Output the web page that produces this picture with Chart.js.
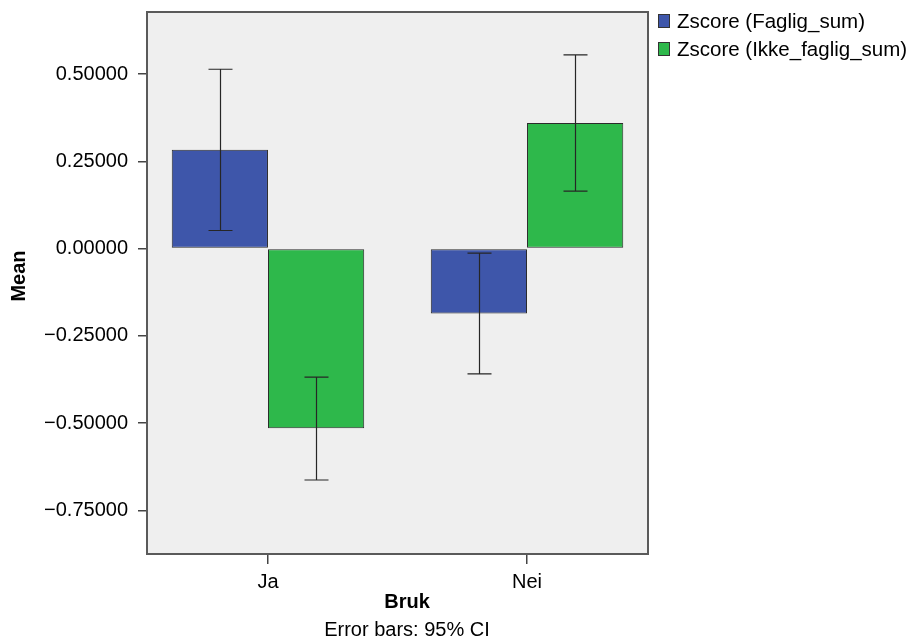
<!DOCTYPE html>
<html>
<head>
<meta charset="utf-8">
<script src="https://cdn.jsdelivr.net/npm/chart.js@4.4.1/dist/chart.umd.min.js"></script>
<style>
  html, body { margin: 0; padding: 0; background: #ffffff; }
  #wrap { width: 918px; height: 641px; }
</style>
</head>
<body>
<div id="wrap"><canvas id="c" width="918" height="641"></canvas></div>
<script>
// ---- data ----
const categories = ['Ja', 'Nei'];
const seriesNames = ['Zscore (Faglig_sum)', 'Zscore (Ikke_faglig_sum)'];
const fagligMean = [0.283, -0.186];
const fagligLow  = [0.052, -0.359];
const fagligHigh = [0.514, -0.013];
const ikkeMean   = [-0.515, 0.360];
const ikkeLow    = [-0.663, 0.165];
const ikkeHigh   = [-0.368, 0.555];
const yTicks = [-0.75, -0.5, -0.25, 0, 0.25, 0.5];
const xTitle = 'Bruk';
const yTitle = 'Mean';
const footnote = 'Error bars: 95% CI';

const colors = ['#3e56aa', '#2eb84b'];
const FONT = "'Liberation Sans', Arial, Helvetica, sans-serif";
Chart.defaults.font.family = FONT;

const fmt = v => (v < 0 ? '\u2212' : '') + Math.abs(v).toFixed(5);

const errPlugin = {
  id: 'errbars',
  beforeDraw(chart) {
    const { ctx, chartArea: a } = chart;
    ctx.save();
    ctx.fillStyle = '#ffffff';
    ctx.fillRect(0, 0, chart.width, chart.height);
    ctx.fillStyle = '#efefef';
    ctx.fillRect(a.left, a.top, a.right - a.left, a.bottom - a.top);
    ctx.restore();
  },
  afterDatasetsDraw(chart) {
    const { ctx } = chart;
    const ys = chart.scales.y;
    const lows = [fagligLow, ikkeLow];
    const highs = [fagligHigh, ikkeHigh];
    ctx.save();
    ctx.strokeStyle = '#262626';
    ctx.lineWidth = 1.2;
    chart.data.datasets.forEach((ds, di) => {
      const meta = chart.getDatasetMeta(di);
      meta.data.forEach((bar, i) => {
        const x = Math.round(bar.x) + 0.5;
        const y1 = ys.getPixelForValue(lows[di][i]);
        const y2 = ys.getPixelForValue(highs[di][i]);
        ctx.beginPath();
        ctx.moveTo(x, y1); ctx.lineTo(x, y2);
        ctx.moveTo(x - 12, y1); ctx.lineTo(x + 12, y1);
        ctx.moveTo(x - 12, y2); ctx.lineTo(x + 12, y2);
        ctx.stroke();
      });
    });
    ctx.restore();
  },
  afterDraw(chart) {
    const { ctx, chartArea: a } = chart;
    ctx.save();
    // plot frame
    ctx.strokeStyle = '#5a5a5a';
    ctx.lineWidth = 2;
    ctx.strokeRect(a.left, a.top, a.right - a.left, a.bottom - a.top);
    // titles
    ctx.fillStyle = '#000';
    ctx.textAlign = 'center';
    ctx.textBaseline = 'middle';
    ctx.font = 'bold 20px ' + FONT;
    ctx.fillText(xTitle, 407, 602);
    ctx.font = '20px ' + FONT;
    ctx.fillText(footnote, 407, 630);
    ctx.save();
    ctx.translate(19, 276);
    ctx.rotate(-Math.PI / 2);
    ctx.font = 'bold 20px ' + FONT;
    ctx.fillText(yTitle, 0, 0);
    ctx.restore();
    // legend
    ctx.textAlign = 'left';
    seriesNames.forEach((name, i) => {
      const yc = 21 + i * 28;
      ctx.fillStyle = colors[i];
      ctx.fillRect(658.5, yc - 6.5, 11, 13);
      ctx.strokeStyle = '#333';
      ctx.lineWidth = 1;
      ctx.strokeRect(658.5, yc - 6.5, 11, 13);
      ctx.fillStyle = '#000';
      ctx.font = '20.5px ' + FONT;
      ctx.fillText(name, 677, yc + 1);
    });
    ctx.restore();
  }
};

const datasets = [fagligMean, ikkeMean].map((arr, di) => ({
  label: seriesNames[di],
  data: categories.map((c, i) => ({ x: i, y: arr[i] })),
  backgroundColor: colors[di],
  borderColor: '#2b2b2b',
  borderWidth: 1,
  borderSkipped: false,
  barPercentage: 1.0,
  categoryPercentage: 0.743
}));

new Chart(document.getElementById('c'), {
  type: 'bar',
  data: { datasets },
  options: {
    responsive: false,
    animation: false,
    layout: { padding: { top: 12, right: 270, bottom: 0, left: 0 } },
    plugins: { legend: { display: false }, tooltip: { enabled: false } },
    scales: {
      x: {
        type: 'linear',
        offset: false,
        min: -0.467,
        max: 1.467,
        afterBuildTicks: s => { s.ticks = categories.map((c, i) => ({ value: i })); },
        afterFit: s => { s.height = 87; s.paddingLeft = 0; s.paddingRight = 0; },
        ticks: {
          callback: v => categories[v] ?? '',
          color: '#000',
          font: { size: 20 },
          padding: 6,
          maxRotation: 0
        },
        grid: { offset: false, drawOnChartArea: false, drawTicks: true, tickLength: 10, color: '#444', lineWidth: 1.5 },
        border: { display: false }
      },
      y: {
        min: -0.875,
        max: 0.678,
        afterBuildTicks: s => { s.ticks = yTicks.map(v => ({ value: v })); },
        afterFit: s => { s.width = 147; s.paddingTop = 0; s.paddingBottom = 0; },
        ticks: {
          callback: v => fmt(v),
          color: '#000',
          font: { size: 20 },
          padding: 10
        },
        grid: { drawOnChartArea: false, drawTicks: true, tickLength: 9, color: '#444', lineWidth: 1.5 },
        border: { display: false }
      }
    }
  },
  plugins: [errPlugin]
});
</script>
</body>
</html>
